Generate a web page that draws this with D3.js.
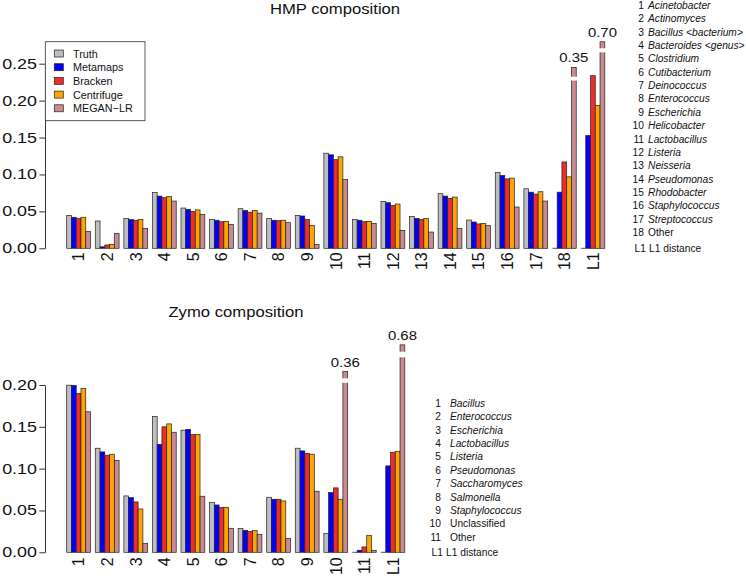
<!DOCTYPE html>
<html>
<head>
<meta charset="utf-8">
<script src="https://cdn.jsdelivr.net/npm/d3@7"></script>
<style>
  body { margin: 0; background: #fff; }
  svg { display: block; font-family: "Liberation Sans", Arial, sans-serif; }
</style>
</head>
<body>
<div id="chart"></div>
<script>
// series + colours
const series = ["Truth", "Metamaps", "Bracken", "Centrifuge", "MEGAN-LR"];
const colors = ["#bebebe", "#0000ff", "#ee2c2c", "#ffa500", "#c98b90"];

// HMP panel
const hmpLabels = ["1","2","3","4","5","6","7","8","9","10","11","12","13","14","15","16","17","18","L1"];
const hmpTruth      = [0.0446,0.037,0.0405,0.0757,0.0545,0.039,0.0536,0.0405,0.0446,0.1288,0.039,0.0635,0.0432,0.0739,0.0383,0.1027,0.0806,0,0];
const hmpMetamaps   = [0.042,0.002,0.039,0.0707,0.0527,0.038,0.051,0.038,0.0437,0.1266,0.038,0.0617,0.0405,0.0707,0.0356,0.0986,0.076,0.076,0.1527];
const hmpBracken    = [0.0405,0.0045,0.038,0.0685,0.050,0.036,0.049,0.0374,0.039,0.120,0.036,0.058,0.039,0.0676,0.033,0.094,0.0734,0.117,0.2338];
const hmpCentrifuge = [0.042,0.0054,0.039,0.070,0.052,0.0365,0.0514,0.038,0.031,0.1239,0.0365,0.060,0.0405,0.0694,0.0338,0.095,0.0766,0.0968,0.1932];
const hmpMegan      = [0.023,0.020,0.027,0.064,0.046,0.0324,0.0477,0.0347,0.005,0.0932,0.0338,0.0243,0.022,0.027,0.031,0.0559,0.064,0.35,0.70];
const hmpTicks = [0, 0.05, 0.10, 0.15, 0.20, 0.25];
// bars that run off the scale: drawn height and the cut in value units
const hmpBreaks = [
  {label: "18", shown: 0.245,  gap: [0.2272, 0.2324]},
  {label: "L1", shown: 0.2797, gap: [0.2654, 0.2709]}
];
const hmpNames = ["Acinetobacter","Actinomyces","Bacillus <bacterium>","Bacteroides <genus>","Clostridium",
  "Cutibacterium","Deinococcus","Enterococcus","Escherichia","Helicobacter","Lactobacillus","Listeria",
  "Neisseria","Pseudomonas","Rhodobacter","Staphylococcus","Streptococcus","Other"];

// Zymo panel
const zymoLabels = ["1","2","3","4","5","6","7","8","9","10","11","L1"];
const zymoTruth      = [0.1998,0.1244,0.0674,0.1623,0.146,0.0598,0.0283,0.0658,0.1244,0.0227,0,0];
const zymoMetamaps   = [0.1994,0.120,0.0654,0.129,0.147,0.0566,0.0263,0.0634,0.1212,0.0714,0.0024,0.1033];
const zymoBracken    = [0.190,0.116,0.0602,0.150,0.1407,0.0538,0.0251,0.0634,0.1184,0.077,0.0064,0.1196];
const zymoCentrifuge = [0.196,0.1172,0.0518,0.1535,0.1407,0.0538,0.0259,0.0614,0.1172,0.0634,0.0203,0.1208];
const zymoMegan      = [0.168,0.110,0.0108,0.1435,0.067,0.0287,0.0211,0.0167,0.073,0.36,0.0024,0.68];
const zymoTicks = [0, 0.05, 0.10, 0.15, 0.20];
const zymoBreaks = [
  {label: "10", shown: 0.216, gap: [0.2027, 0.208]},
  {label: "L1", shown: 0.248, gap: [0.2331, 0.2398]}
];
const zymoNames = ["Bacillus","Enterococcus","Escherichia","Lactobacillus","Listeria","Pseudomonas",
  "Saccharomyces","Salmonella","Staphylococcus","Unclassified","Other"];
const plainNames = ["Other", "Unclassified"];

const svg = d3.select("#chart").append("svg")
    .attr("width", 746)
    .attr("height", 579);

const fmt = d3.format(".2f");

// text helper: the picture's lettering is a bit wider than Arial, so stretch in x
function txt(g, x, y, s, size, sx, anchor) {
  return g.append("text")
    .attr("transform", `translate(${x},${y}) scale(${sx},1)`)
    .attr("font-size", size)
    .attr("text-anchor", anchor || "start")
    .attr("fill", "#111")
    .text(s);
}

function panel(o) {
  const g = svg.append("g");

  const x = d3.scaleBand()
    .domain(o.labels)
    .range(o.xRange)
    .paddingInner(1/6)
    .paddingOuter(0);
  const xs = d3.scaleBand()
    .domain(series)
    .range([0, x.bandwidth()]);
  const y = d3.scaleLinear()
    .domain([0, o.ticks[o.ticks.length - 1]])
    .range(o.yRange);

  // y axis
  const ax = g.append("g")
    .attr("transform", "translate(45,0)")
    .call(d3.axisLeft(y).tickValues(o.ticks).tickFormat(fmt).tickSize(5.7).tickSizeOuter(0));
  ax.selectAll("path, line").attr("stroke", "#333");
  ax.selectAll("text")
    .attr("x", null)
    .attr("transform", "translate(-8,0) scale(1.28,1)")
    .attr("font-size", 14)
    .attr("font-family", "Liberation Sans, Arial, sans-serif")
    .attr("fill", "#111");

  // x labels, rotated
  const bx = g.append("g")
    .attr("transform", `translate(0,${o.yRange[0]})`)
    .call(d3.axisBottom(x).tickSize(0));
  bx.select(".domain").remove();
  bx.selectAll("text")
    .attr("y", 0)
    .attr("x", -o.labelPad)
    .attr("dy", "0.36em")
    .attr("transform", "rotate(-90)")
    .attr("text-anchor", "end")
    .attr("font-size", 16)
    .attr("font-family", "Liberation Sans, Arial, sans-serif")
    .attr("fill", "#111");

  // bars
  const rows = o.labels.map((lab, i) => ({lab, vals: o.values.map(a => a[i])}));
  const grp = g.selectAll("g.grp")
    .data(rows)
    .enter().append("g")
      .attr("class", "grp")
      .attr("transform", d => `translate(${x(d.lab)},0)`);

  grp.each(function(d) {
    const gg = d3.select(this);
    d.vals.forEach((v, j) => {
      const brk = j === 4 ? o.breaks.find(b => b.label === d.lab) : null;
      const shown = brk ? brk.shown : v;
      const x0 = xs(series[j]), w = xs.bandwidth();
      if (shown === 0) {
        gg.append("line")
          .attr("x1", x0).attr("x2", x0 + w)
          .attr("y1", y(0)).attr("y2", y(0))
          .attr("stroke", "#222").attr("stroke-width", 0.8);
        return;
      }
      gg.append("rect")
        .attr("x", x0)
        .attr("y", y(shown))
        .attr("width", w)
        .attr("height", y(0) - y(shown))
        .attr("fill", colors[j])
        .attr("stroke", "#222")
        .attr("stroke-width", 0.7);
      if (brk) {
        gg.append("rect")
          .attr("x", x0 - 1)
          .attr("y", y(brk.gap[1]))
          .attr("width", w + 2)
          .attr("height", y(brk.gap[0]) - y(brk.gap[1]))
          .attr("fill", "#fff");
        txt(gg, x0 + w / 2, y(shown) - 5, fmt(v), 13, 1.15, "middle");
      }
    });
  });

  // title
  txt(g, o.title[1], o.title[2], o.title[0], 14.5, 1.15, "middle");

  // numbered name list on the right
  o.names.forEach((nm, i) => {
    const yy = o.list.y + i * o.list.dy;
    txt(g, o.list.numX, yy, String(i + 1), 11, 0.93, "end");
    txt(g, o.list.nameX, yy, nm, 11, 0.93, "start")
      .attr("font-style", plainNames.includes(nm) ? "normal" : "italic");
  });
  txt(g, o.list.numX + 2, o.list.l1Y, "L1", 11, 0.93, "end");
  txt(g, o.list.numX + 5, o.list.l1Y, "L1 distance", 11, 0.93, "start");
}

panel({
  labels: hmpLabels,
  values: [hmpTruth, hmpMetamaps, hmpBracken, hmpCentrifuge, hmpMegan],
  breaks: hmpBreaks,
  ticks: hmpTicks,
  xRange: [66.7, 604.8],
  yRange: [248.3, 63.7],
  labelPad: 4,
  title: ["HMP composition", 335, 14],
  names: hmpNames,
  list: {numX: 644, nameX: 648, y: 9, dy: 13.35, l1Y: 252}
});

panel({
  labels: zymoLabels,
  values: [zymoTruth, zymoMetamaps, zymoBracken, zymoCentrifuge, zymoMegan],
  breaks: zymoBreaks,
  ticks: zymoTicks,
  xRange: [66.7, 404.8],
  yRange: [552.3, 385],
  labelPad: 5,
  title: ["Zymo composition", 236, 317],
  names: zymoNames,
  list: {numX: 441, nameX: 450, y: 406.7, dy: 13.4, l1Y: 556}
});

// legend (top panel)
const lg = svg.append("g").attr("transform", "translate(45.3,41.7)");
lg.append("rect")
  .attr("width", 99.7).attr("height", 79)
  .attr("fill", "#fff").attr("stroke", "#333").attr("stroke-width", 0.8);
series.forEach((s, i) => {
  lg.append("rect")
    .attr("x", 9).attr("y", 8.3 + i * 13.7)
    .attr("width", 9).attr("height", 7)
    .attr("fill", colors[i]).attr("stroke", "#222").attr("stroke-width", 0.7);
  txt(lg, 27.7, 15.8 + i * 13.7, s.replace("-", "\u2212"), 10.8, 1, "start");
});
</script>
</body>
</html>
